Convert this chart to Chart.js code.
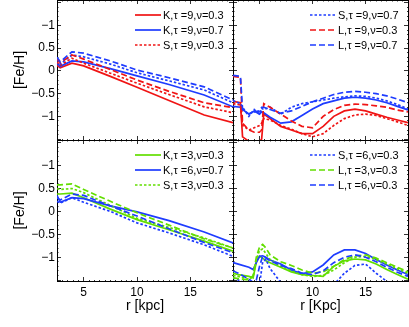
<!DOCTYPE html>
<html>
<head>
<meta charset="utf-8">
<script src="https://cdn.jsdelivr.net/npm/chart.js@4/dist/chart.umd.min.js"></script>
<style>
  body { margin: 0; background: #fff; }
  #fig { position: relative; width: 409px; height: 327px; overflow: hidden; }
  canvas { position: absolute; }
</style>
</head>
<body>
<div id="fig">
  <canvas id="tl" width="234" height="141" style="left:0;top:0"></canvas>
  <canvas id="tr" width="176" height="141" style="left:233px;top:0"></canvas>
  <canvas id="bl" width="234" height="187" style="left:0;top:140px"></canvas>
  <canvas id="br" width="176" height="187" style="left:233px;top:140px"></canvas>
</div>
<script>
// radios (kpc) de cada panel
const rGrad = [2.5, 2.8, 3.9, 5, 7.5, 10, 13, 16.3, 19];
const rTop = [2.5, 3.2, 3.4, 4, 4.5, 5, 5.2, 5.4, 6, 7, 8, 9, 10, 11, 12, 13, 14, 15, 16, 17, 18, 19];
const rBot = [2.5, 3, 4, 4.4, 4.7, 5, 5.3, 5.6, 6, 7, 8, 9, 10, 11, 12, 13, 14, 15, 16, 17, 18, 19];

// arriba izquierda (tau = 9)
const k9v03L = [0.12, 0.07, 0.17, 0.11, -0.12, -0.36, -0.65, -0.97, -1.14];
const k9v07L = [0.17, 0.1, 0.22, 0.2, 0.05, -0.11, -0.3, -0.53, -0.79];
const s9v03L = [0.2, 0.12, 0.28, 0.17, -0.05, -0.27, -0.52, -0.79, -0.92];
const s9v07L = [0.25, 0.15, 0.35, 0.31, 0.15, -0.04, -0.22, -0.42, -0.7];
const l9v03L = [0.27, 0.18, 0.35, 0.26, 0.03, -0.2, -0.45, -0.7, -0.81];
const l9v07L = [0.3, 0.2, 0.42, 0.39, 0.22, 0.02, -0.15, -0.35, -0.64];

// arriba derecha (tau = 9)
const k9v03R = [-0.67, -0.7, -1.45, -1.55, -1.55, -1.55, -1.5, -0.95, -1.05, -1.22, -1.3, -1.38, -1.38, -1.22, -1.0, -0.88, -0.84, -0.88, -0.95, -1.02, -1.08, -1.14];
const k9v07R = [-0.78, -0.8, -0.85, -0.95, -0.88, -0.95, -0.9, -0.92, -1.02, -1.15, -1.12, -0.98, -0.84, -0.72, -0.66, -0.6, -0.58, -0.6, -0.64, -0.7, -0.78, -0.86];
const s9v03R = [-0.72, -0.75, -1.2, -1.3, -1.25, -1.2, -1.15, -1.05, -1.08, -1.2, -1.28, -1.38, -1.45, -1.38, -1.2, -1.05, -0.97, -0.95, -0.98, -1.05, -1.12, -1.2];
const s9v07R = [-0.65, -0.72, -0.8, -1.0, -0.85, -0.95, -0.82, -0.85, -0.8, -0.95, -0.8, -0.72, -0.68, -0.64, -0.6, -0.57, -0.55, -0.56, -0.6, -0.66, -0.74, -0.84];
const l9v03R = [-0.12, -0.14, -1.15, -1.3, -1.35, -1.35, -1.3, -0.72, -0.8, -0.95, -1.1, -1.22, -1.25, -1.0, -0.85, -0.76, -0.73, -0.74, -0.77, -0.8, -0.86, -0.9];
const l9v07R = [-0.1, -0.12, -0.85, -0.95, -0.9, -0.88, -0.8, -0.8, -0.85, -0.93, -0.88, -0.78, -0.68, -0.6, -0.52, -0.47, -0.45, -0.47, -0.5, -0.55, -0.62, -0.7];

// abajo izquierda (tau = 3 y 6)
const k3v03L = [0.38, 0.38, 0.4, 0.3, 0.05, -0.18, -0.4, -0.65, -0.87];
const k6v07L = [0.35, 0.2, 0.3, 0.28, 0.12, -0.01, -0.2, -0.45, -0.69];
const s3v03L = [0.5, 0.48, 0.5, 0.41, 0.13, -0.15, -0.35, -0.58, -0.8];
const s6v03L = [0.22, 0.18, 0.3, 0.2, 0.0, -0.25, -0.47, -0.73, -0.98];
const l3v03L = [0.58, 0.58, 0.6, 0.48, 0.22, -0.03, -0.3, -0.6, -0.8];
const l6v03L = [0.3, 0.25, 0.38, 0.35, 0.12, -0.1, -0.38, -0.68, -0.9];

// abajo derecha (tau = 3 y 6)
const k3v03R = [-1.35, -1.38, -1.42, -1.45, -1.1, -0.98, -1.02, -1.08, -1.12, -1.22, -1.32, -1.38, -1.4, -1.42, -1.2, -1.08, -1.04, -1.06, -1.15, -1.27, -1.38, -1.48];
const k6v07R = [-1.12, -1.15, -1.22, -1.27, -1.12, -0.98, -0.97, -1.0, -1.06, -1.15, -1.28, -1.36, -1.32, -1.17, -0.95, -0.84, -0.84, -0.92, -1.05, -1.17, -1.28, -1.38];
const s3v03R = [-1.4, -1.42, -1.48, -1.42, -1.05, -0.85, -0.82, -0.92, -1.05, -1.2, -1.3, -1.38, -1.42, -1.4, -1.28, -1.12, -1.0, -0.98, -1.05, -1.15, -1.25, -1.35];
const s6v03R = [-1.45, -1.5, -1.6, -1.65, -1.65, -1.6, -1.1, -1.05, -1.25, -1.55, -1.7, -1.75, -1.75, -1.7, -1.6, -1.35, -1.18, -1.15, -1.35, -1.53, -1.65, -1.72];
const l3v03R = [-1.45, -1.47, -1.5, -1.4, -1.0, -0.78, -0.72, -0.8, -0.95, -1.1, -1.18, -1.28, -1.35, -1.32, -1.2, -1.05, -0.97, -0.95, -1.02, -1.12, -1.22, -1.32];
const l6v03R = [-1.3, -1.35, -1.48, -1.55, -1.5, -1.2, -0.98, -1.02, -1.08, -1.18, -1.25, -1.35, -1.38, -1.3, -1.12, -1.0, -0.95, -1.0, -1.1, -1.22, -1.33, -1.42];

// etiquetas de los ejes
const xTickVals = [5, 10, 15];
const xTickText = ["5", "10", "15"];
const yTickVals = [1, 0.5, 0, -0.5, -1];
const yTickText = ["\u22121", "0.5", "0", "\u22120.5", "\u22121"];

const FONT = "'Liberation Sans', Arial, sans-serif";
const ROJO = "#f01414";
const AZUL = "#1e3cff";
const VERDE = "#62de00";
const SOLIDA = [];
const PUNTOS = [2.5, 2];
const GUIONES = [6, 3];

Chart.defaults.font.family = FONT;
Chart.defaults.color = "#000";

const TICK = -4;

function esMayor(eje, v) {
  if (eje === "x") return Math.abs(v / 5 - Math.round(v / 5)) < 1e-6;
  return Math.abs(v * 2 - Math.round(v * 2)) < 1e-6;
}

function guionMenor(pos) {
  // los ticks menores son mas cortos
  return pos === "bottom" || pos === "right" ? [2, 100] : [0, 2.5, 2, 100];
}

function crearTicks(eje) {
  const t = [];
  if (eje === "x") {
    for (let k = 5; k <= 38; k++) t.push({ value: k / 2 });
  } else {
    for (let k = -15; k <= 15; k++) t.push({ value: k / 10 });
  }
  return t;
}

function etiqueta(eje, v) {
  const vals = eje === "x" ? xTickVals : yTickVals;
  const txt = eje === "x" ? xTickText : yTickText;
  const i = vals.findIndex((a) => Math.abs(a - v) < 1e-6);
  return i >= 0 ? txt[i] : "";
}

function eje(tipo, pos, mostrar, tam, titulo, padTitulo) {
  const esX = tipo === "x";
  return {
    type: "linear",
    position: pos,
    min: esX ? 2.5 : -1.52,
    max: esX ? 19 : 1.56,
    border: { display: true, color: "#000", width: 1 },
    grid: {
      drawOnChartArea: false,
      drawTicks: true,
      tickLength: TICK,
      tickColor: "#333",
      tickWidth: 1,
      tickBorderDash: (ctx) => (ctx.tick && !esMayor(tipo, ctx.tick.value) ? guionMenor(pos) : []),
    },
    ticks: {
      display: mostrar,
      padding: esX ? 8 : 6,
      color: "#000",
      font: { size: 12 },
      autoSkip: false,
      maxRotation: 0,
      minRotation: 0,
      callback: (v) => etiqueta(tipo, v),
    },
    title: titulo
      ? { display: true, text: titulo, color: "#000", font: { size: 14 }, padding: padTitulo }
      : { display: false },
    afterBuildTicks: (s) => {
      s.ticks = crearTicks(tipo);
    },
    afterFit: (s) => {
      if (esX) s.height = tam;
      else s.width = tam;
      s.paddingTop = 0;
      s.paddingBottom = 0;
      s.paddingLeft = 0;
      s.paddingRight = 0;
    },
  };
}

const leyendaPanel = {
  id: "leyendaPanel",
  afterDatasetsDraw(chart, args, opts) {
    const { ctx, chartArea } = chart;
    ctx.save();
    ctx.font = "11px " + FONT;
    ctx.textBaseline = "middle";
    ctx.fillStyle = "#000";
    opts.items.forEach((idx, fila) => {
      const ds = chart.data.datasets[idx];
      const y = chartArea.top + opts.top + fila * 15;
      ctx.strokeStyle = ds.borderColor;
      ctx.lineWidth = ds.borderWidth;
      ctx.setLineDash(ds.borderDash);
      ctx.beginPath();
      ctx.moveTo(chartArea.right - 98, y);
      ctx.lineTo(chartArea.right - 72, y);
      ctx.stroke();
      ctx.setLineDash([]);
      ctx.fillText(ds.label, chartArea.right - 70, y + 0.5);
    });
    ctx.restore();
  },
};

function serie(label, color, dash, xs, ys) {
  return {
    label: label,
    data: xs.map((r, i) => ({ x: r, y: ys[i] })),
    borderColor: color,
    borderWidth: 1.7,
    borderDash: dash,
    pointRadius: 0,
    tension: 0,
    fill: false,
  };
}

function crearPanel(id, datasets, izquierda, abajo, tituloX, items) {
  datasets.forEach((d, i) => (d.order = -i));
  return new Chart(document.getElementById(id), {
    type: "line",
    data: { datasets: datasets },
    options: {
      responsive: false,
      devicePixelRatio: 1,
      animation: false,
      layout: { padding: 0, autoPadding: false },
      plugins: {
        legend: { display: false },
        tooltip: { enabled: false },
        leyendaPanel: { items: items, top: 15 },
      },
      scales: {
        x: eje("x", "bottom", abajo, abajo ? 46 : 1, abajo ? tituloX : null, { top: 0, bottom: 12 }),
        xTop: eje("x", "top", false, 0, null),
        y: eje("y", "left", izquierda, izquierda ? 57 : 0, izquierda ? "[Fe/H]" : null, { top: 12, bottom: 0 }),
        yRight: eje("y", "right", false, 1, null),
      },
    },
    plugins: [leyendaPanel],
  });
}

crearPanel("tl", [
  serie("K,\u03c4 =9,\u03bd=0.3", ROJO, SOLIDA, rGrad, k9v03L),
  serie("K,\u03c4 =9,\u03bd=0.7", AZUL, SOLIDA, rGrad, k9v07L),
  serie("S,\u03c4 =9,\u03bd=0.3", ROJO, PUNTOS, rGrad, s9v03L),
  serie("S,\u03c4 =9,\u03bd=0.7", AZUL, PUNTOS, rGrad, s9v07L),
  serie("L,\u03c4 =9,\u03bd=0.3", ROJO, GUIONES, rGrad, l9v03L),
  serie("L,\u03c4 =9,\u03bd=0.7", AZUL, GUIONES, rGrad, l9v07L),
], true, false, null, [0, 1, 2]);

crearPanel("tr", [
  serie("K,\u03c4 =9,\u03bd=0.3", ROJO, SOLIDA, rTop, k9v03R),
  serie("K,\u03c4 =9,\u03bd=0.7", AZUL, SOLIDA, rTop, k9v07R),
  serie("S,\u03c4 =9,\u03bd=0.3", ROJO, PUNTOS, rTop, s9v03R),
  serie("S,\u03c4 =9,\u03bd=0.7", AZUL, PUNTOS, rTop, s9v07R),
  serie("L,\u03c4 =9,\u03bd=0.3", ROJO, GUIONES, rTop, l9v03R),
  serie("L,\u03c4 =9,\u03bd=0.7", AZUL, GUIONES, rTop, l9v07R),
], false, false, null, [3, 4, 5]);

crearPanel("bl", [
  serie("K,\u03c4 =3,\u03bd=0.3", VERDE, SOLIDA, rGrad, k3v03L),
  serie("K,\u03c4 =6,\u03bd=0.7", AZUL, SOLIDA, rGrad, k6v07L),
  serie("S,\u03c4 =3,\u03bd=0.3", VERDE, PUNTOS, rGrad, s3v03L),
  serie("S,\u03c4 =6,\u03bd=0.3", AZUL, PUNTOS, rGrad, s6v03L),
  serie("L,\u03c4 =3,\u03bd=0.3", VERDE, GUIONES, rGrad, l3v03L),
  serie("L,\u03c4 =6,\u03bd=0.3", AZUL, GUIONES, rGrad, l6v03L),
], true, true, "r [kpc]", [0, 1, 2]);

crearPanel("br", [
  serie("K,\u03c4 =3,\u03bd=0.3", VERDE, SOLIDA, rBot, k3v03R),
  serie("K,\u03c4 =6,\u03bd=0.7", AZUL, SOLIDA, rBot, k6v07R),
  serie("S,\u03c4 =3,\u03bd=0.3", VERDE, PUNTOS, rBot, s3v03R),
  serie("S,\u03c4 =6,\u03bd=0.3", AZUL, PUNTOS, rBot, s6v03R),
  serie("L,\u03c4 =3,\u03bd=0.3", VERDE, GUIONES, rBot, l3v03R),
  serie("L,\u03c4 =6,\u03bd=0.3", AZUL, GUIONES, rBot, l6v03R),
], false, true, "r [Kpc]", [3, 4, 5]);
</script>
</body>
</html>
